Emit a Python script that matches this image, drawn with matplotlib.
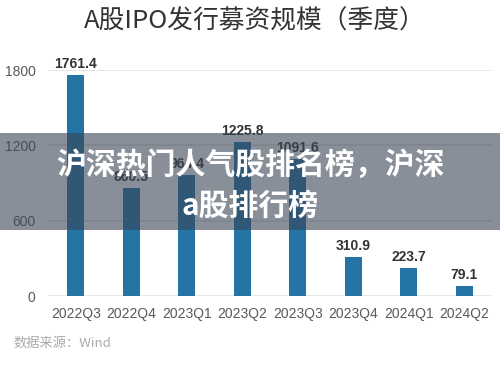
import matplotlib; matplotlib.use("Agg")
import matplotlib.pyplot as plt
from matplotlib.patches import Rectangle

plt.rcParams['font.family'] = ['Liberation Sans', 'Noto Sans CJK SC', 'DejaVu Sans']

quarters = ["2022Q3", "2022Q4", "2023Q1", "2023Q2", "2023Q3", "2023Q4", "2024Q1", "2024Q2"]
amounts = [1761.4, 860.5, 964.4, 1225.8, 1091.6, 310.9, 223.7, 79.1]
y_ticks = [0, 600, 1200, 1800]

title = "A股IPO发行募资规模（季度）"
source = "数据来源：Wind"
banner = "沪深热门人气股排名榜，沪深\na股排行榜"

fig = plt.figure(figsize=(5, 3.65), dpi=100)
fig.patch.set_facecolor("white")
ax = fig.add_axes([0.096, 0.189, 0.888, 0.619])

x = range(len(quarters))
bars = ax.bar(x, amounts, width=0.31, color="#2474a6", zorder=3)
for xi, v in zip(x, amounts):
    ax.text(xi, v + 35, f"{v:.1f}", ha="center", va="bottom",
            fontsize=10, fontweight="bold", color="#333333", zorder=4)

ax.set_xlim(-0.5, len(quarters) - 0.5)
ax.set_ylim(0, 1800)
ax.set_yticks(y_ticks)
ax.set_xticks(list(x))
ax.set_xticklabels(quarters)
ax.tick_params(axis="both", length=0, labelsize=10, labelcolor="#595959")
ax.tick_params(axis="x", pad=8)
ax.tick_params(axis="y", pad=9)
ax.grid(axis="y", color="#e3e3e3", linewidth=1.2, zorder=0)
for s in ax.spines.values():
    s.set_visible(False)

fig.text(0.51, 0.94, title, ha="center", va="center", fontsize=18.5,
         color="#333333", family=["Noto Sans CJK SC", "DejaVu Sans"])
fig.text(0.026, 0.06, source, ha="left", va="center", fontsize=9.5,
         color="#aaaaaa", family=["Noto Sans CJK SC", "DejaVu Sans"])

# grey banner laid over the chart
fig.patches.append(Rectangle((0, 1 - 230 / 365), 1, 97 / 365, transform=fig.transFigure,
                             facecolor="#3a4556", alpha=0.6, zorder=10))
fig.text(0.5, 1 - 185 / 365, banner, ha="center", va="center", fontsize=21.5,
         fontweight="heavy", color="white", linespacing=1.45, zorder=11,
         family=["Noto Sans CJK SC", "DejaVu Sans"])

fig.savefig("out.png", dpi=100)
